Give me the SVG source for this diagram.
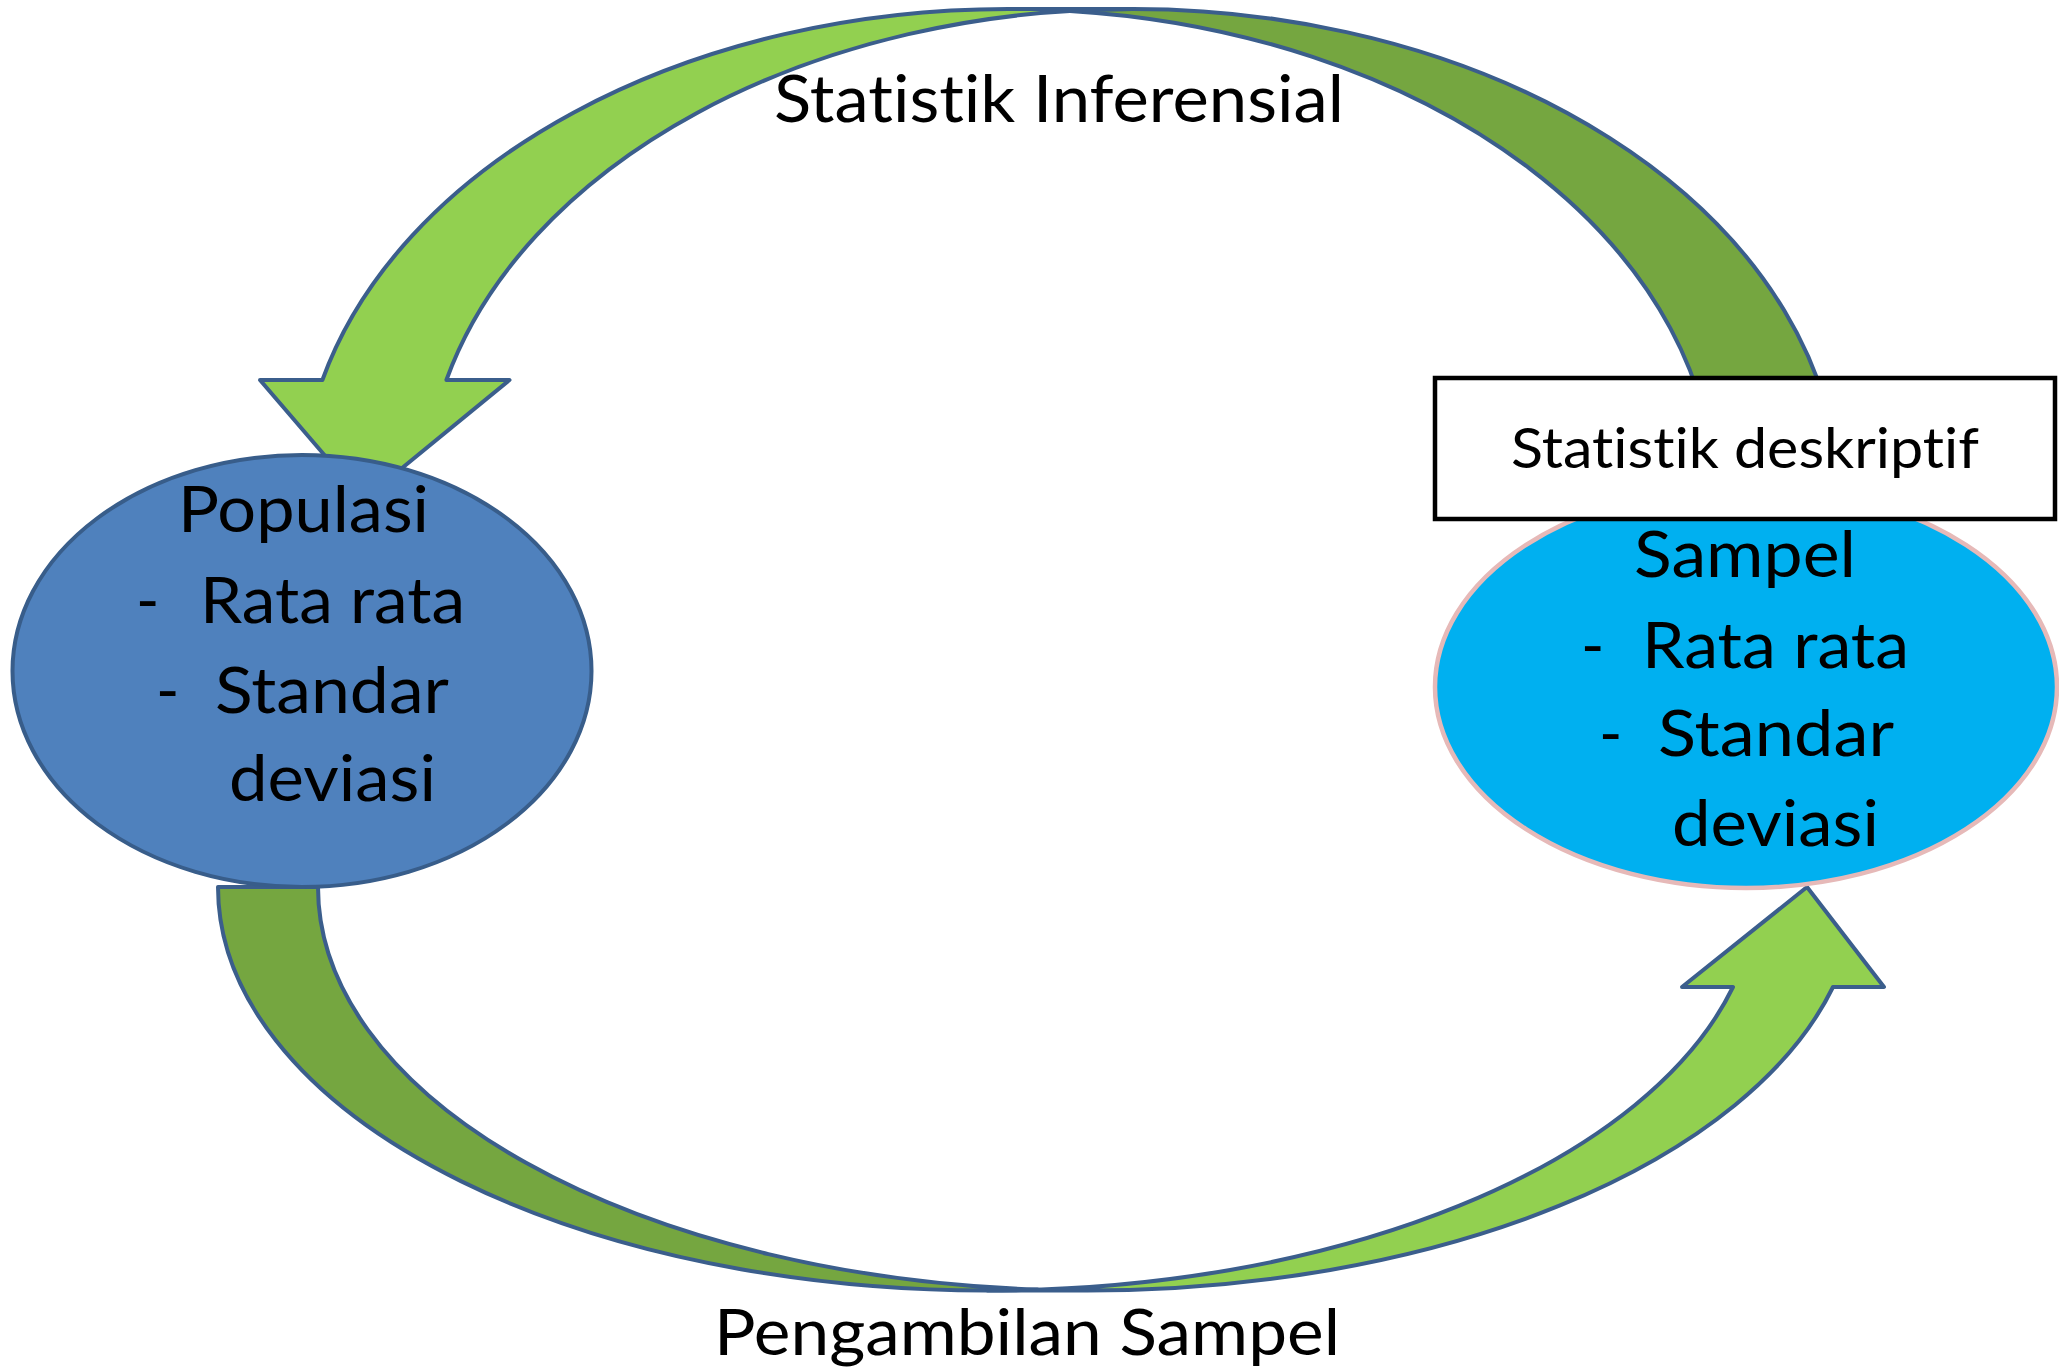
<svg xmlns="http://www.w3.org/2000/svg" width="2059" height="1369" viewBox="0 0 2059 1369">
<style>
.band{stroke:#3B5E8C;stroke-width:4;stroke-linejoin:round}
.front{fill:#92D050}
.back{fill:#75A640}
.t{font-family:Lato,"Open Sans",sans-serif;fill:#000;font-variant-ligatures:none;font-feature-settings:"liga" 0,"clig" 0}
.big{font-size:63px}
</style>
<rect width="2059" height="1369" fill="#fff"/>
<g id="connectors">
  <g id="arrow-inferensial">
    <path class="band back" d="M 1070,10.9 A 707 491 0 0 1 1715,500 L 1839,500 A 707 491 0 0 0 1070,10.9 Z"/>
    <path class="band front" d="M 363,500 L 509.5,380 L 446.4,380 A 707 491 0 0 1 1132,9 L 1008,9 A 707 491 0 0 0 322.4,380 L 260,380 Z"/>
  </g>
  <g id="arrow-pengambilan">
    <path class="band back" d="M 1037.5,1289.6 A 769.5 403.5 0 0 1 218,887 L 318,887 A 769.5 403.5 0 0 0 1037.5,1289.6 Z"/>
    <path class="band front" d="M 1807,887 L 1884,987 L 1833,987 A 769.5 403.5 0 0 1 1087.5,1290.5 L 987.5,1290.5 A 769.5 403.5 0 0 0 1733,987 L 1682,987 Z"/>
  </g>
  <text class="t" x="774" y="122" font-size="65" textLength="570" lengthAdjust="spacingAndGlyphs">Statistik Inferensial</text>
  <text class="t big" x="714" y="1355" textLength="626" lengthAdjust="spacingAndGlyphs">Pengambilan Sampel</text>
</g>
<g id="populasi">
  <ellipse cx="302" cy="671" rx="289.5" ry="216" fill="#4F81BD" stroke="#385D8A" stroke-width="4"/>
  <text class="t big" x="178" y="532" textLength="251" lengthAdjust="spacingAndGlyphs">Populasi</text>
  <text class="t big" y="623"><tspan x="136">-</tspan> <tspan x="200" textLength="265" lengthAdjust="spacingAndGlyphs">Rata rata</tspan></text>
  <text class="t big" y="713"><tspan x="156">-</tspan> <tspan x="215" textLength="234" lengthAdjust="spacingAndGlyphs">Standar</tspan></text>
  <text class="t big" x="229" y="801" textLength="207" lengthAdjust="spacingAndGlyphs">deviasi</text>
</g>
<g id="sampel">
  <ellipse cx="1746" cy="687" rx="311" ry="201" fill="#00B0F0" stroke="#E6B9B8" stroke-width="4.5"/>
  <text class="t big" x="1634" y="577" textLength="222" lengthAdjust="spacingAndGlyphs">Sampel</text>
  <text class="t big" y="668"><tspan x="1581">-</tspan> <tspan x="1642" textLength="267" lengthAdjust="spacingAndGlyphs">Rata rata</tspan></text>
  <text class="t big" y="756"><tspan x="1599">-</tspan> <tspan x="1658" textLength="236" lengthAdjust="spacingAndGlyphs">Standar</tspan></text>
  <text class="t big" x="1672" y="846" textLength="207" lengthAdjust="spacingAndGlyphs">deviasi</text>
</g>
<g id="statistik-deskriptif">
  <rect x="1435" y="378" width="620" height="141" fill="#fff" stroke="#000" stroke-width="4.5"/>
  <text class="t" x="1511" y="468" font-size="56" textLength="468" lengthAdjust="spacingAndGlyphs">Statistik deskriptif</text>
</g>
</svg>
